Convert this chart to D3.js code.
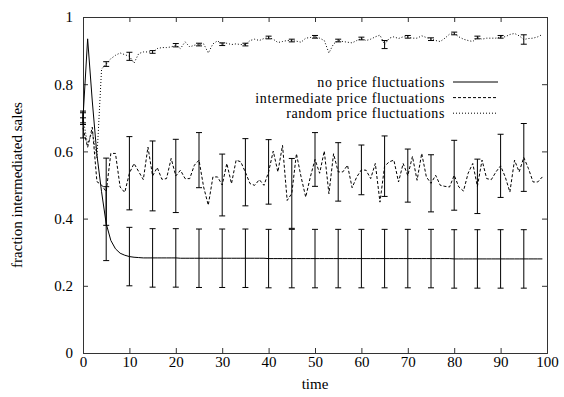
<!DOCTYPE html>
<html>
<head>
<meta charset="utf-8">
<script src="https://cdn.jsdelivr.net/npm/d3@7/dist/d3.min.js"></script>
<style>
  body { margin: 0; background: #fff; }
  svg text { font-family: "Liberation Serif", "DejaVu Serif", serif; font-size: 15px; fill: #000; }
</style>
</head>
<body>
<div class="chart"></div>
<script>
// time steps 0..99
const times = d3.range(0, 100);

const noFluct = [0.70, 0.935, 0.75, 0.59, 0.48, 0.385, 0.335, 0.31, 0.297, 0.291,
  0.287, 0.285, 0.284, 0.283, 0.283, 0.283, 0.283, 0.283, 0.283, 0.283,
  0.283, 0.282, 0.282, 0.282, 0.282, 0.282, 0.282, 0.282, 0.282, 0.282,
  0.282, 0.282, 0.282, 0.282, 0.282, 0.282, 0.282, 0.282, 0.282, 0.282,
  0.281, 0.281, 0.281, 0.281, 0.281, 0.281, 0.281, 0.281, 0.281, 0.281,
  0.281, 0.281, 0.281, 0.281, 0.281, 0.281, 0.281, 0.281, 0.281, 0.281,
  0.281, 0.281, 0.281, 0.281, 0.281, 0.281, 0.281, 0.281, 0.281, 0.281,
  0.281, 0.281, 0.281, 0.281, 0.281, 0.281, 0.281, 0.281, 0.281, 0.281,
  0.28, 0.28, 0.28, 0.28, 0.28, 0.28, 0.28, 0.28, 0.28, 0.28,
  0.28, 0.28, 0.28, 0.28, 0.28, 0.28, 0.28, 0.28, 0.28, 0.28];

const intermFluct = [0.67, 0.612, 0.672, 0.51, 0.50, 0.48, 0.594, 0.594, 0.494, 0.478,
  0.535, 0.564, 0.54, 0.516, 0.613, 0.527, 0.552, 0.517, 0.519, 0.579,
  0.527, 0.544, 0.519, 0.519, 0.559, 0.574, 0.494, 0.44, 0.524, 0.524,
  0.50, 0.564, 0.504, 0.574, 0.569, 0.538, 0.504, 0.499, 0.516, 0.499,
  0.539, 0.601, 0.539, 0.618, 0.454, 0.475, 0.593, 0.524, 0.464, 0.524,
  0.576, 0.535, 0.601, 0.474, 0.593, 0.539, 0.539, 0.559, 0.492, 0.524,
  0.545, 0.544, 0.519, 0.564, 0.449, 0.556, 0.569, 0.574, 0.509, 0.564,
  0.528, 0.585, 0.514, 0.594, 0.524, 0.505, 0.529, 0.499, 0.496, 0.494,
  0.529, 0.494, 0.482, 0.535, 0.564, 0.496, 0.574, 0.519, 0.516, 0.539,
  0.557, 0.524, 0.479, 0.574, 0.539, 0.582, 0.549, 0.509, 0.509, 0.524];

const randomFluct = [0.70, 0.62, 0.66, 0.58, 0.845, 0.860, 0.876, 0.886, 0.893, 0.888,
  0.883, 0.863, 0.891, 0.896, 0.896, 0.896, 0.906, 0.909, 0.909, 0.911,
  0.916, 0.906, 0.926, 0.911, 0.916, 0.918, 0.92, 0.893, 0.92, 0.929,
  0.919, 0.922, 0.918, 0.92, 0.918, 0.918, 0.93, 0.934, 0.93, 0.936,
  0.939, 0.934, 0.924, 0.927, 0.93, 0.93, 0.928, 0.925, 0.937, 0.939,
  0.941, 0.937, 0.93, 0.893, 0.92, 0.93, 0.927, 0.925, 0.923, 0.93,
  0.936, 0.93, 0.934, 0.941, 0.946, 0.918, 0.937, 0.941, 0.936, 0.941,
  0.941, 0.937, 0.937, 0.944, 0.939, 0.934, 0.93, 0.927, 0.937, 0.949,
  0.951, 0.941, 0.934, 0.93, 0.927, 0.939, 0.934, 0.937, 0.937, 0.937,
  0.941, 0.941, 0.948, 0.951, 0.944, 0.933, 0.936, 0.937, 0.941, 0.948];

// error bars every 5 time units (half widths)
const errTimes = d3.range(0, 100, 5);
const noFluctErr = [0.015, 0.11, 0.087, 0.087, 0.087, 0.087, 0.087, 0.087, 0.087, 0.087,
  0.087, 0.087, 0.087, 0.087, 0.087, 0.087, 0.087, 0.087, 0.087, 0.087];
const intermFluctErr = [0.03, 0.10, 0.109, 0.104, 0.109, 0.082, 0.092, 0.10, 0.096, 0.104,
  0.08, 0.087, 0.074, 0.09, 0.079, 0.085, 0.104, 0.081, 0.094, 0.101];
const randomFluctErr = [0.02, 0.007, 0.012, 0.004, 0.005, 0.004, 0.004, 0.004, 0.004, 0.004,
  0.004, 0.004, 0.004, 0.012, 0.004, 0.004, 0.004, 0.004, 0.004, 0.014];

const xTicks = [0, 10, 20, 30, 40, 50, 60, 70, 80, 90, 100];
const yTicks = [0, 0.2, 0.4, 0.6, 0.8, 1];

const seriesNames = ["no price fluctuations", "intermediate price fluctuations", "random price fluctuations"];
const seriesDash = ["none", "3,2", "1,2"];

const width = 564, height = 397;
const margin = {top: 17, right: 17, bottom: 44, left: 83};
const w = width - margin.left - margin.right;
const h = height - margin.top - margin.bottom;

const svg = d3.select(".chart").append("svg")
  .attr("width", width)
  .attr("height", height);

const g = svg.append("g")
  .attr("transform", "translate(" + margin.left + "," + margin.top + ")");

const x = d3.scaleLinear().domain([0, 100]).range([0, w]);
const y = d3.scaleLinear().domain([0, 1]).range([h, 0]);

// axes with inward ticks, mirrored on top and right
const tickLen = 5;
g.append("g")
  .attr("transform", "translate(0," + h + ")")
  .call(d3.axisBottom(x).tickValues(xTicks).tickSize(-tickLen).tickPadding(3).tickFormat(d3.format("d")));
g.append("g")
  .call(d3.axisTop(x).tickValues(xTicks).tickSize(-tickLen).tickFormat(""));
g.append("g")
  .call(d3.axisLeft(y).tickValues(yTicks).tickSize(-tickLen).tickPadding(10).tickFormat(function(d){ return d3.format("")(+d.toFixed(1)); }));
g.append("g")
  .attr("transform", "translate(" + w + ",0)")
  .call(d3.axisRight(y).tickValues(yTicks).tickSize(-tickLen).tickFormat(""));

g.selectAll(".domain").attr("stroke", "#333");
g.selectAll(".tick line").attr("stroke", "#333");
g.selectAll(".tick text").style("font-size", "15px").style("font-family", "Liberation Serif");

// series
const allSeries = [noFluct, intermFluct, randomFluct];
const allErr = [noFluctErr, intermFluctErr, randomFluctErr];

const line = d3.line()
  .x(function(d, i){ return x(times[i]); })
  .y(function(d){ return y(d); });

allSeries.forEach(function(s, k){
  g.append("path")
    .datum(s)
    .attr("fill", "none")
    .attr("stroke", "#000")
    .attr("stroke-width", 1)
    .attr("stroke-dasharray", seriesDash[k])
    .attr("d", line);

  // error bars
  const cap = 3;
  const eb = g.append("g").attr("class", "errbars");
  errTimes.forEach(function(t, j){
    const v = s[t], e = allErr[k][j];
    const px = x(t);
    eb.append("line")
      .attr("x1", px).attr("x2", px)
      .attr("y1", y(v - e)).attr("y2", y(v + e))
      .attr("stroke", "#000");
    [v - e, v + e].forEach(function(c){
      eb.append("line")
        .attr("x1", px - cap).attr("x2", px + cap)
        .attr("y1", y(c)).attr("y2", y(c))
        .attr("stroke", "#000");
    });
  });
});

// legend
const legend = g.append("g").attr("transform", "translate(" + (445 - margin.left) + "," + (82 - margin.top) + ")");
seriesNames.forEach(function(name, k){
  const ly = k * 15.6;
  legend.append("text")
    .attr("x", 0).attr("y", ly)
    .attr("dy", "0.35em")
    .attr("text-anchor", "end")
    .style("font-size", "14px")
    .style("letter-spacing", "0.6px")
    .text(name);
  legend.append("line")
    .attr("x1", 8).attr("x2", 53)
    .attr("y1", ly).attr("y2", ly)
    .attr("stroke", "#000")
    .attr("stroke-dasharray", seriesDash[k]);
});

// axis labels
svg.append("text")
  .attr("x", margin.left + w / 2)
  .attr("y", 389)
  .attr("text-anchor", "middle")
  .text("time");

svg.append("text")
  .attr("transform", "translate(22," + (margin.top + h / 2) + ") rotate(-90)")
  .attr("text-anchor", "middle")
  .text("fraction intermediated sales");
</script>
</body>
</html>
